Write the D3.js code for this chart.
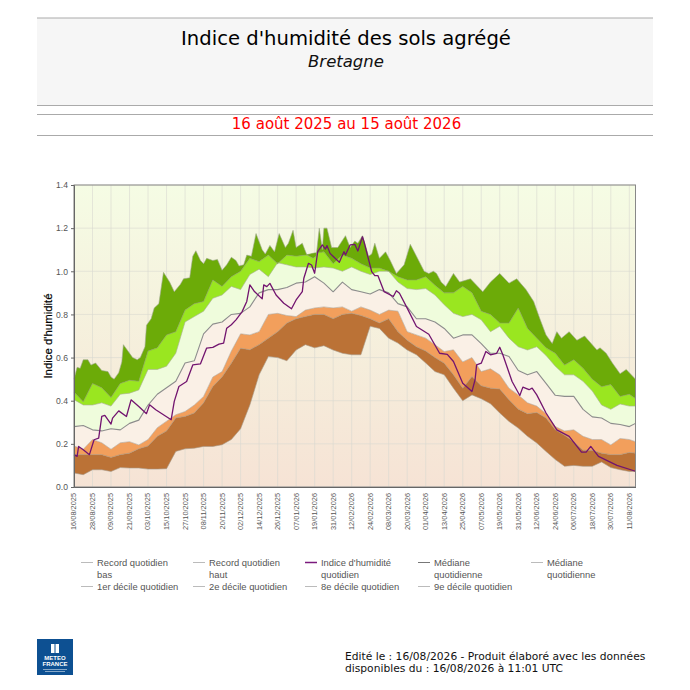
<!DOCTYPE html>
<html lang="fr">
<head>
<meta charset="utf-8">
<title>Indice d'humidité des sols agrégé</title>
<script src="https://cdn.jsdelivr.net/npm/d3@7"></script>
<style>
html, body { margin: 0; padding: 0; background: #fff; }
svg { display: block; }
.head { font-family: "DejaVu Sans", sans-serif; text-anchor: middle; }
.axis text, .legend text { font-family: "Liberation Sans", Arial, sans-serif; fill: #555; }
.foot { font-family: "DejaVu Sans", sans-serif; font-size: 10.7px; fill: #111; }
</style>
</head>
<body>
<div id="chart"></div>
<script>
// jours depuis le 16/08/2025
const tickDays = [0, 12, 24, 36, 48, 60, 72, 84, 96, 108, 120, 132, 144, 156, 168, 180, 192, 204, 216, 228, 240, 252, 264, 276, 288, 300, 312, 324, 336, 348, 360];
const tickLabels = ["16/08/2025", "28/08/2025", "09/09/2025", "21/09/2025", "03/10/2025", "15/10/2025", "27/10/2025", "08/11/2025", "20/11/2025", "02/12/2025", "14/12/2025", "26/12/2025", "07/01/2026", "19/01/2026", "31/01/2026", "12/02/2026", "24/02/2026", "08/03/2026", "20/03/2026", "01/04/2026", "13/04/2026", "25/04/2026", "07/05/2026", "19/05/2026", "31/05/2026", "12/06/2026", "24/06/2026", "06/07/2026", "18/07/2026", "30/07/2026", "11/08/2026"];
const yTicks = [0, 0.2, 0.4, 0.6, 0.8, 1.0, 1.2, 1.4];

const bandDays = [0, 6, 12, 18, 24, 30, 36, 42, 48, 54, 60, 66, 72, 78, 84, 90, 96, 102, 108, 114, 120, 126, 132, 138, 144, 150, 156, 162, 168, 174, 180, 186, 192, 198, 204, 210, 216, 222, 228, 234, 240, 246, 252, 258, 264, 270, 276, 282, 288, 294, 300, 306, 312, 318, 324, 330, 336, 342, 348, 354, 360, 364];
const recordBas = [.065, .057, .08, .08, .072, .09, .088, .088, .083, .083, .085, .165, .177, .18, .188, .188, .196, .22, .27, .38, .52, .605, .60, .585, .635, .66, .645, .655, .635, .62, .613, .613, .745, .735, .69, .667, .635, .613, .575, .535, .52, .458, .40, .427, .409, .386, .343, .304, .273, .235, .204, .165, .127, .096, .10, .096, .096, .116, .09, .08, .072, .072];
const decile1 = [.15, .15, .15, .15, .137, .15, .157, .177, .19, .235, .26, .32, .327, .343, .39, .466, .51, .574, .643, .636, .66, .69, .72, .76, .78, .79, .80, .80, .78, .80, .805, .795, .78, .76, .78, .72, .68, .65, .63, .60, .574, .52, .458, .512, .469, .458, .454, .404, .361, .34, .345, .32, .265, .24, .21, .17, .17, .157, .15, .15, .16, .157];
const decile2 = [.19, .175, .22, .205, .175, .205, .21, .195, .22, .275, .305, .335, .35, .38, .42, .51, .535, .63, .71, .705, .72, .80, .805, .795, .79, .82, .83, .835, .83, .835, .815, .835, .82, .80, .82, .815, .72, .705, .69, .66, .628, .636, .58, .60, .535, .548, .52, .458, .427, .39, .375, .34, .28, .26, .265, .235, .22, .22, .195, .225, .22, .21];
const mediane = [.28, .285, .265, .26, .27, .265, .295, .31, .38, .43, .46, .49, .575, .585, .71, .755, .765, .80, .805, .835, .90, .915, .915, .925, .945, .95, .975, .945, .905, .95, .915, .905, .895, .915, .90, .85, .835, .78, .78, .765, .735, .69, .705, .705, .665, .62, .62, .605, .54, .52, .535, .48, .425, .42, .42, .36, .325, .32, .295, .29, .28, .295];
const decile8 = [.405, .38, .38, .39, .375, .43, .435, .45, .545, .545, .56, .62, .765, .79, .815, .875, .89, .93, .915, .985, 1.01, .975, 1.04, 1.03, 1.02, 1.02, 1.015, 1.02, 1.015, 1.0, 1.02, 1.0, .985, 1.0, 1.0, .95, .92, .915, .92, .89, .845, .805, .79, .80, .775, .72, .745, .69, .65, .635, .65, .61, .56, .52, .52, .49, .445, .38, .36, .385, .375, .375];
const decile9 = [.44, .395, .48, .46, .415, .48, .495, .49, .63, .645, .705, .72, .82, .85, .86, .96, .93, .975, 1.0, 1.06, 1.045, 1.075, 1.035, 1.075, 1.07, 1.075, 1.085, 1.09, 1.035, 1.075, 1.06, 1.035, 1.015, 1.015, 1.0, .975, .96, .96, .975, .935, .90, .90, .93, .90, .815, .80, .76, .76, .83, .735, .69, .645, .62, .565, .59, .55, .50, .465, .475, .42, .43, .41];

// le record haut et l'indice ont plus de points : pics fins
const hautDays = [0, 2, 4, 6, 9, 11, 14, 18, 22, 24, 26, 29, 31, 32, 35, 38, 41, 43, 46, 47, 50, 52, 55, 58, 62, 65, 69, 71, 75, 77, 79, 82, 84, 86, 90, 93, 96, 99, 102, 105, 107, 110, 112, 115, 118, 122, 124, 127, 130, 133, 137, 139, 142, 144, 148, 151, 155, 157, 159, 161, 162, 164, 167, 171, 176, 179, 182, 184, 187, 191, 193, 195, 198, 202, 205, 209, 214, 218, 222, 227, 230, 233, 235, 238, 241, 246, 250, 257, 265, 270, 276, 282, 287, 293, 298, 302, 306, 310, 313, 316, 321, 326, 331, 339, 341, 345, 349, 354, 358, 364];
const recordHaut = [.50, .555, .55, .59, .59, .565, .575, .54, .535, .51, .50, .53, .58, .66, .63, .60, .59, .60, .65, .75, .78, .83, .85, .995, .95, .905, .94, .965, .97, 1.07, 1.095, 1.05, 1.035, 1.06, 1.05, 1.055, 1.005, 1.03, 1.065, 1.05, 1.025, 1.03, 1.075, 1.07, 1.175, 1.10, 1.08, 1.12, 1.09, 1.175, 1.11, 1.13, 1.19, 1.11, 1.13, 1.075, 1.06, 1.07, 1.20, 1.10, 1.20, 1.20, 1.11, 1.11, 1.165, 1.11, 1.14, 1.13, 1.165, 1.07, 1.08, 1.13, 1.06, 1.09, 1.05, .99, 1.03, 1.125, 1.07, 1.0, .99, 1.0, .99, .95, .93, .99, .95, .965, .905, .95, .99, .945, .965, .915, .86, .78, .705, .665, .72, .69, .72, .68, .70, .635, .645, .62, .575, .525, .545, .50];

const indiceDays = [0, 2, 3, 6, 10, 13, 16, 18, 20, 24, 25, 29, 34, 37, 42, 47, 49, 53, 63, 65, 68, 73, 77, 82, 86, 90, 94, 97, 99, 102, 105, 109, 112, 114, 117, 122, 123, 125, 127, 131, 136, 141, 144, 148, 149, 152, 154, 156, 158, 161, 163, 164, 166, 172, 175, 176, 179, 182, 184, 187, 188, 193, 195, 197, 201, 207, 209, 211, 216, 222, 230, 237, 242, 246, 252, 258, 260, 261, 264, 267, 270, 274, 276, 278, 284, 289, 291, 295, 297, 300, 306, 313, 321, 329, 332, 335, 340, 352, 364];
const indice = [.15, .142, .188, .173, .15, .219, .227, .327, .332, .292, .319, .353, .327, .404, .373, .34, .381, .358, .312, .397, .466, .489, .566, .571, .644, .647, .662, .667, .736, .752, .775, .813, .86, .937, .906, .872, .937, .929, .944, .89, .852, .826, .867, .906, .968, 1.037, 1.029, .991, 1.091, 1.122, 1.103, 1.119, 1.083, 1.042, 1.091, 1.076, 1.122, 1.125, 1.094, 1.16, 1.137, .998, .98, .98, .906, .883, .91, .898, .829, .744, .708, .62, .615, .582, .481, .443, .497, .566, .574, .628, .613, .62, .648, .613, .489, .424, .463, .451, .458, .427, .343, .265, .235, .162, .162, .188, .142, .10, .073];

const legendLabels = [["Record quotidien", "bas"], ["Record quotidien", "haut"], ["Indice d'humidité", "quotidien"], ["Médiane", "quotidienne"], ["Médiane", "quotidienne"], ["1er décile quotidien"], ["2e décile quotidien"], ["8e décile quotidien"], ["9e décile quotidien"]];
const legendColors = ["#bbb", "#bbb", "#7b1a7d", "#777", "#bbb", "#bbb", "#bbb", "#bbb", "#bbb"];

const W = 690, H = 690;
const plot = { left: 74, right: 635.5, top: 185, bottom: 487 };

const svg = d3.select("#chart").append("svg").attr("width", W).attr("height", H);

const x = d3.scaleLinear().domain([0, 364]).range([plot.left, plot.right]);
const y = d3.scaleLinear().domain([0, 1.4]).range([plot.bottom, plot.top]);

// en-tete
svg.append("rect").attr("x", 37).attr("y", 18).attr("width", 616).attr("height", 87).attr("fill", "#f6f6f6");
[18, 105.5, 114.5, 135.5].forEach(ly => {
    svg.append("line").attr("x1", 37).attr("x2", 653).attr("y1", ly).attr("y2", ly)
        .attr("stroke", "#aaa").attr("stroke-width", 1);
});
svg.append("text").attr("class", "head").attr("x", 346).attr("y", 45).attr("font-size", 19.6).attr("fill", "#000")
    .text("Indice d'humidité des sols agrégé");
svg.append("text").attr("class", "head").attr("x", 346).attr("y", 67).attr("font-size", 16.5).attr("font-style", "italic").attr("fill", "#111")
    .text("Bretagne");
svg.append("text").attr("class", "head").attr("x", 346.5).attr("y", 129).attr("font-size", 15).attr("fill", "#f00")
    .text("16 août 2025 au 15 août 2026");

// fond degrade
const grad = svg.append("defs").append("linearGradient").attr("id", "bg")
    .attr("x1", 0).attr("x2", 0).attr("y1", 0).attr("y2", 1);
grad.append("stop").attr("offset", "0%").attr("stop-color", "#f5fce4");
grad.append("stop").attr("offset", "100%").attr("stop-color", "#f6e3d5");

svg.append("rect").attr("x", plot.left).attr("y", plot.top)
    .attr("width", plot.right - plot.left).attr("height", plot.bottom - plot.top)
    .attr("fill", "url(#bg)");

// grille
const grid = svg.append("g").attr("stroke", "#d8d8d0").attr("stroke-opacity", 0.6).attr("stroke-width", 1);
grid.selectAll(".gx").data(tickDays).enter().append("line")
    .attr("x1", d => x(d)).attr("x2", d => x(d)).attr("y1", plot.top).attr("y2", plot.bottom);
grid.selectAll(".gy").data(yTicks).enter().append("line")
    .attr("x1", plot.left).attr("x2", plot.right).attr("y1", d => y(d)).attr("y2", d => y(d));

// bandes entre deux series
const toPts = (days, vals) => days.map((d, i) => [x(d), y(vals[i])]);
const line = d3.line();

function band(upDays, up, lowDays, low, color) {
    const pts = toPts(upDays, up).concat(toPts(lowDays, low).reverse());
    svg.append("path").attr("d", line(pts) + "Z").attr("fill", color);
}
band(bandDays, decile1, bandDays, recordBas, "#bb7236");
band(bandDays, decile2, bandDays, decile1, "#f29f5c");
band(bandDays, mediane, bandDays, decile2, "#faf0e6");
band(bandDays, decile8, bandDays, mediane, "#effcdc");
band(bandDays, decile9, bandDays, decile8, "#9ae620");
band(hautDays, recordHaut, bandDays, decile9, "#6cab08");

function curve(days, vals, color, width) {
    svg.append("path").attr("d", line(toPts(days, vals))).attr("fill", "none")
        .attr("stroke", color).attr("stroke-width", width).attr("stroke-linejoin", "round");
}
curve(bandDays, recordBas, "#a89a8a", 0.6);
curve(bandDays, decile1, "#a0907c", 0.6);
curve(bandDays, decile2, "#b0a598", 0.6);
curve(bandDays, mediane, "#8d8d8d", 1.1);
curve(bandDays, decile8, "#a8b098", 0.6);
curve(bandDays, decile9, "#88a060", 0.6);
curve(hautDays, recordHaut, "#a0a890", 0.6);
curve(indiceDays, indice, "#72146f", 1.3);

// cadre
svg.append("rect").attr("x", plot.left).attr("y", plot.top)
    .attr("width", plot.right - plot.left).attr("height", plot.bottom - plot.top)
    .attr("fill", "none").attr("stroke", "#888").attr("stroke-width", 1);

// axes
const yAxis = svg.append("g").attr("class", "axis")
    .attr("transform", `translate(${plot.left},0)`)
    .call(d3.axisLeft(y).tickValues(yTicks).tickFormat(d3.format(".1f")).tickSize(3).tickPadding(3));
yAxis.selectAll("text").attr("font-size", 8.6);
yAxis.selectAll("line").attr("stroke", "#666");
yAxis.select(".domain").attr("stroke", "#666");

const xAxis = svg.append("g").attr("class", "axis")
    .attr("transform", `translate(0,${plot.bottom})`)
    .call(d3.axisBottom(x).tickValues(tickDays).tickFormat((d, i) => tickLabels[i]).tickSize(0));
xAxis.selectAll("text")
    .attr("font-size", 7.4)
    .attr("text-anchor", "end")
    .attr("dominant-baseline", "middle")
    .attr("dy", 0)
    .attr("transform", "translate(0,6) rotate(-90)")
    .attr("y", 0).attr("x", 0);
xAxis.select(".domain").attr("stroke", "#666");

svg.append("text").attr("x", 0).attr("y", 0)
    .attr("transform", "translate(52,336) rotate(-90)")
    .attr("text-anchor", "middle")
    .attr("font-family", "Liberation Sans, Arial, sans-serif").attr("font-size", 11.4).attr("fill", "#000")
    .attr("stroke", "#000").attr("stroke-width", 0.2)
    .text("Indice d'humidité");

// legende
const legendX = [97, 209, 321, 434, 547];
const legend = svg.append("g").attr("class", "legend");
legendLabels.forEach((lines, i) => {
    const col = i < 5 ? i : i - 5;
    const top = i < 5 ? 566 : 590;
    legend.append("line").attr("x1", legendX[col] - 16).attr("x2", legendX[col] - 4)
        .attr("y1", top - 3.5).attr("y2", top - 3.5)
        .attr("stroke", legendColors[i]).attr("stroke-width", i === 2 ? 1.5 : 1);
    lines.forEach((t, j) => {
        legend.append("text").attr("x", legendX[col]).attr("y", top + j * 12)
            .attr("font-size", 9.4).text(t);
    });
});

// logo
const logo = svg.append("g");
logo.append("rect").attr("x", 37).attr("y", 639).attr("width", 36).attr("height", 36).attr("fill", "#0d5092");
logo.append("rect").attr("x", 51).attr("y", 644).attr("width", 8).attr("height", 9).attr("fill", "#fff");
logo.append("line").attr("x1", 55).attr("x2", 55).attr("y1", 644).attr("y2", 653).attr("stroke", "#0d5092").attr("stroke-width", 1);
logo.append("text").attr("x", 55).attr("y", 660).attr("text-anchor", "middle").attr("font-family", "Liberation Sans, Arial, sans-serif")
    .attr("font-size", 6).attr("font-weight", "bold").attr("fill", "#fff").text("METEO");
logo.append("text").attr("x", 55).attr("y", 666).attr("text-anchor", "middle").attr("font-family", "Liberation Sans, Arial, sans-serif")
    .attr("font-size", 6).attr("font-weight", "bold").attr("fill", "#fff").text("FRANCE");
logo.append("rect").attr("x", 43).attr("y", 669).attr("width", 24).attr("height", 1).attr("fill", "#fff").attr("fill-opacity", 0.5);
logo.append("rect").attr("x", 45).attr("y", 671).attr("width", 20).attr("height", 1).attr("fill", "#fff").attr("fill-opacity", 0.5);

// pied
svg.append("text").attr("class", "foot").attr("x", 345).attr("y", 660).text("Edité le : 16/08/2026 - Produit élaboré avec les données");
svg.append("text").attr("class", "foot").attr("x", 345).attr("y", 672).text("disponibles du : 16/08/2026 à 11:01 UTC");
</script>
</body>
</html>
